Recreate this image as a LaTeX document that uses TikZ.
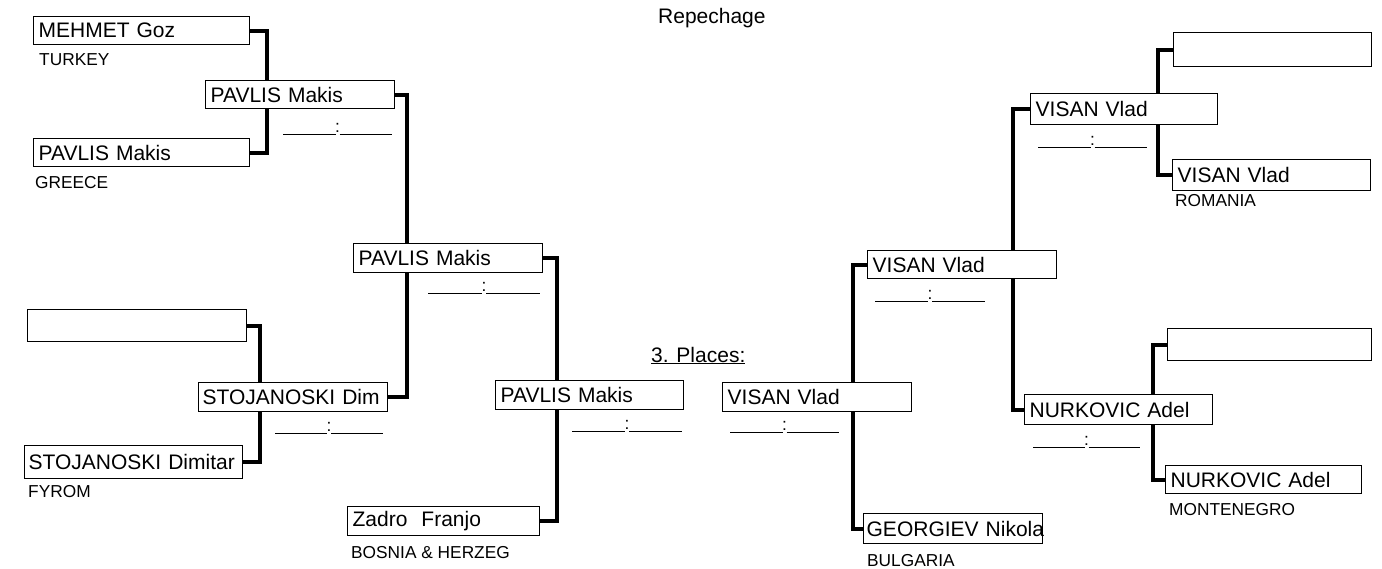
\documentclass[tikz,border=0pt]{standalone}
\usepackage{fontspec}
\setmainfont{Liberation Sans}
\usetikzlibrary{backgrounds}
\newcommand\namefont{\fontsize{21}{23}\selectfont}
\newcommand\ctryfont{\fontsize{17.3}{19}\selectfont}
\tikzset{
  box/.style={draw, fill=white, line width=1.3pt, inner xsep=5pt, inner ysep=0pt,
    anchor=north west, align=left, font=\namefont},
  conn/.style={line width=3.8pt, line cap=rect},
  ctry/.style={anchor=base west, inner sep=0pt, font=\ctryfont},
  scoreline/.style={line width=1pt},
  colon/.style={anchor=base, inner sep=0pt, font=\ctryfont},
  ttl/.style={anchor=base west, inner sep=0pt, font=\namefont}
}
\newcommand\bbox[7][5]{%
  \pgfmathsetmacro\bw{#5-#3-2*#1-1.3}%
  \pgfmathsetmacro\bh{#6-#4}%
  \node[box, inner xsep=#1pt, minimum height=\bh pt, text width=\bw pt] (#2) at (#3,#4) {\mbox{#7}};}
\newcommand\score[4]{%
  \pgfmathsetmacro\sm{(#2+#3)/2}%
  \draw[scoreline] (#2,#4) -- (\sm-2,#4);
  \draw[scoreline] (\sm+2,#4) -- (#3,#4);
  \node[colon] (#1) at (\sm,#4-2) {:};}
\begin{document}
\begin{tikzpicture}[x=1pt,y=-1pt]
\useasboundingbox (0,0) rectangle (1382,568);
% left side boxes
\bbox{A}{33}{16}{250}{44}{MEHMET Goz}
\bbox{B}{205}{80}{395}{108}{PAVLIS Makis}
\bbox{C}{33}{138}{250}{166}{PAVLIS Makis}
\bbox{D}{353}{243}{543}{272}{PAVLIS Makis}
\bbox{F}{27}{309}{247}{341}{}
\bbox[4]{E}{198}{382}{388}{411}{STOJANOSKI Dim}
\bbox[4]{G}{24}{445}{243}{478}{STOJANOSKI Dimitar}
\bbox{H}{347}{506}{540}{535}{Zadro\ \ Franjo}
\bbox{I}{495}{380}{684}{409}{PAVLIS Makis}
% right side boxes
\bbox{J}{722}{382}{912}{411}{VISAN Vlad}
\bbox{K}{867}{250}{1057}{278}{VISAN Vlad}
\bbox[3]{L}{863}{513}{1043}{543}{GEORGIEV Nikola}
\bbox{M}{1030}{93}{1218}{124}{VISAN Vlad}
\bbox{N}{1024}{394}{1213}{424}{NURKOVIC Adel}
\bbox{O}{1173}{32}{1372}{66}{}
\bbox{P}{1172}{159}{1371}{190}{VISAN Vlad}
\bbox{Q}{1167}{328}{1372}{360}{}
\bbox{R}{1165}{465}{1362}{493}{NURKOVIC Adel}
% connectors
\begin{pgfonlayer}{background}
\draw[conn] (A.east) -- ++(17,0) |- (C.east);
\draw[conn] (B.east) -- ++(12,0) |- (E.east);
\draw[conn] (F.east) -- ++(13,0) |- (G.east);
\draw[conn] (D.east) -- ++(14,0) |- (H.east);
\draw[conn] (K.west) -- ++(-14,0) |- (L.west);
\draw[conn] (M.west) -- ++(-17,0) |- (N.west);
\draw[conn] (O.west) -- ++(-15,0) |- (P.west);
\draw[conn] (Q.west) -- ++(-14,0) |- (R.west);
\end{pgfonlayer}
% countries
\node[ctry] (tA) at (39,65) {TURKEY};
\node[ctry] (tC) at (35,188) {GREECE};
\node[ctry] (tG) at (28,497) {FYROM};
\node[ctry] (tH) at (351,558) {BOSNIA \& HERZEG};
\node[ctry] (tL) at (867,566) {BULGARIA};
\node[ctry] (tP) at (1175,206) {ROMANIA};
\node[ctry] (tR) at (1169,515) {MONTENEGRO};
% scores
\score{sB}{283}{392}{134}
\score{sD}{428}{540}{293}
\score{sE}{275}{383}{433}
\score{sI}{572}{682}{431}
\score{sJ}{730}{839}{432}
\score{sK}{875}{985}{301}
\score{sM}{1038}{1147}{147}
\score{sN}{1033}{1140}{447}
% titles
\node[ttl] (rep) at (658,23) {Repechage};
\node[ttl] (pl) at (651,362) {\underline{3. Places:}};
\end{tikzpicture}
\end{document}
